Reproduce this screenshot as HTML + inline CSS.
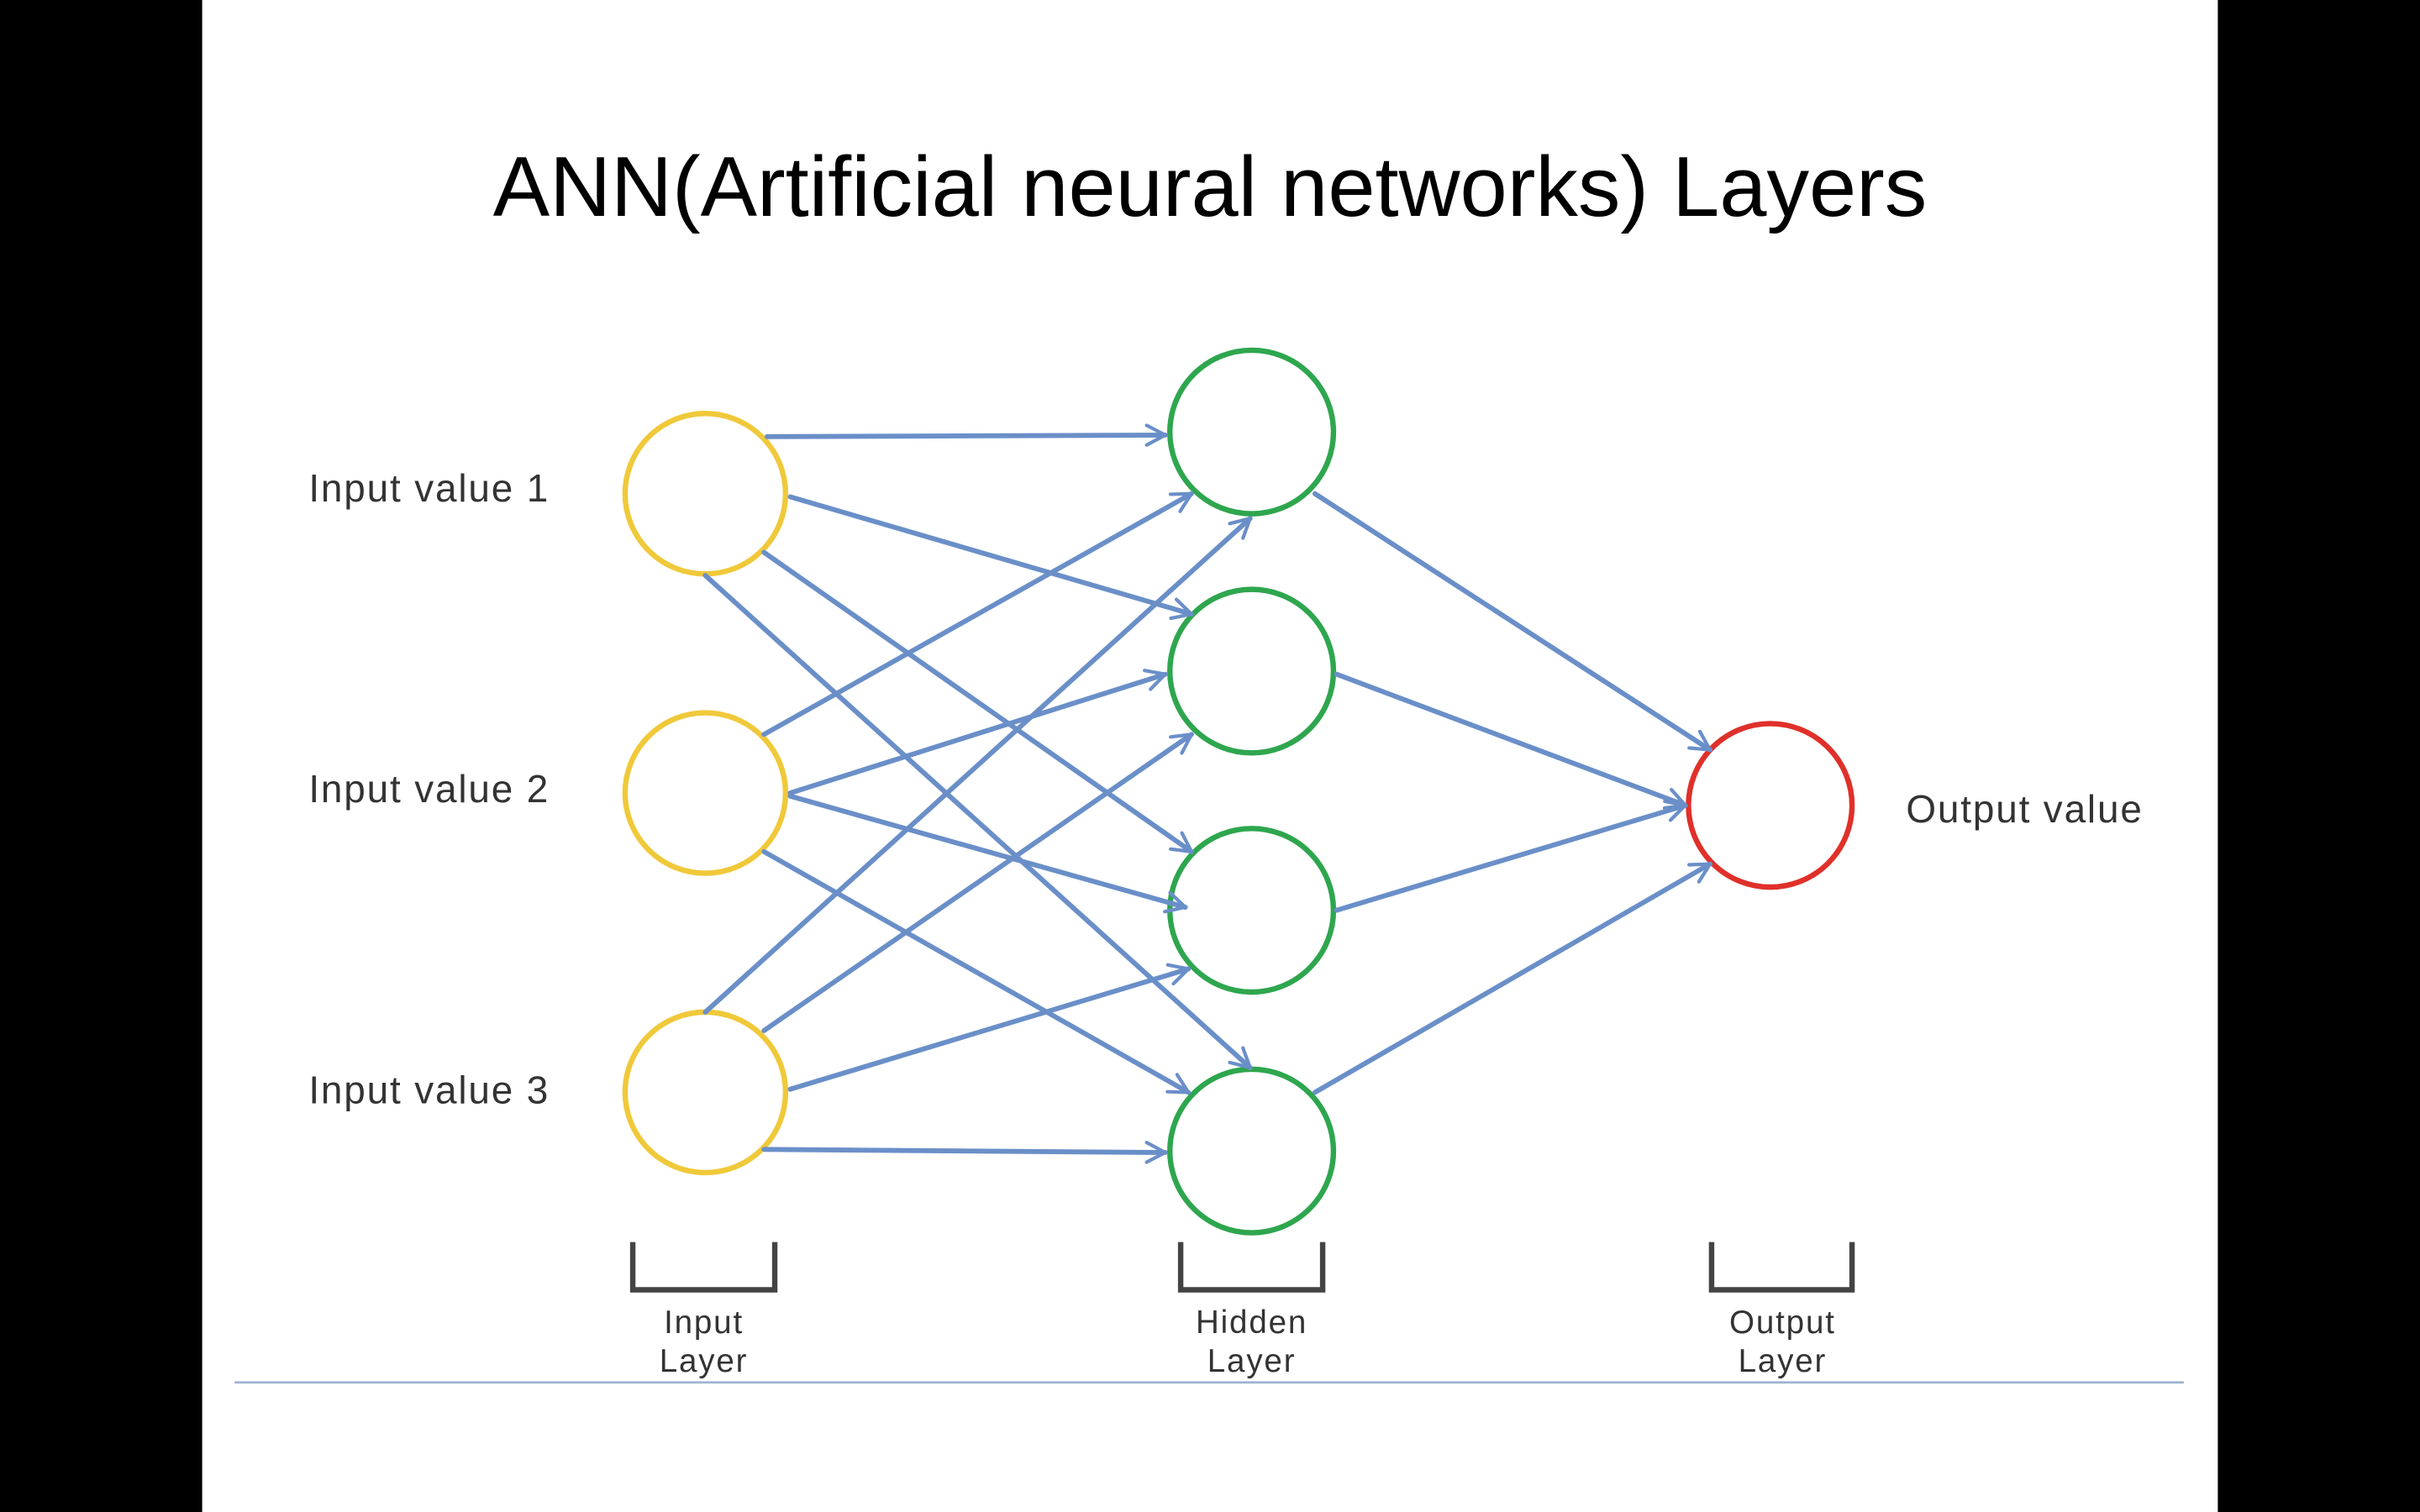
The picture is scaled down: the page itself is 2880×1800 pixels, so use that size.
<!DOCTYPE html>
<html><head><meta charset="utf-8"><style>
html,body{margin:0;padding:0;background:#000;}
svg{display:block;}
</style></head><body>
<svg width="2880" height="1800" viewBox="0 0 1568 980" xmlns="http://www.w3.org/2000/svg">
<defs>
<marker id="a" viewBox="0 0 12 12" refX="10.5" refY="6" markerWidth="17" markerHeight="17" orient="auto" markerUnits="userSpaceOnUse">
<path d="M2,1.5 L10.5,6 L2,10.5" fill="none" stroke="#6a8fc8" stroke-width="1.6" stroke-linecap="round" stroke-linejoin="round"/>
</marker>
</defs>
<rect x="0" y="0" width="1568" height="980" fill="#000"/>
<rect x="131" y="0" width="1306" height="980" fill="#fff"/>
<text x="784" y="140" text-anchor="middle" font-family="Liberation Sans, sans-serif" font-size="55" fill="#000">ANN(Artificial neural networks) Layers</text>
<g fill="#fff" stroke-width="3.5">
<circle cx="457" cy="320" r="52" stroke="#f0c93a"/>
<circle cx="457" cy="514" r="52" stroke="#f0c93a"/>
<circle cx="457" cy="708" r="52" stroke="#f0c93a"/>
<circle cx="811" cy="280" r="53" stroke="#2ea64e"/>
<circle cx="811" cy="435" r="53" stroke="#2ea64e"/>
<circle cx="811" cy="590" r="53" stroke="#2ea64e"/>
<circle cx="811" cy="746" r="53" stroke="#2ea64e"/>
<circle cx="1147" cy="522" r="53" stroke="#e0302a"/>
</g>
<g stroke="#6a8fc8" stroke-width="3.2" fill="none" marker-end="url(#a)" stroke-linecap="round">
<line x1="497" y1="283" x2="755" y2="282"/>
<line x1="512" y1="322" x2="772" y2="398"/>
<line x1="495" y1="358" x2="772" y2="552"/>
<line x1="457" y1="373" x2="810" y2="692"/>
<line x1="495" y1="476" x2="772" y2="320"/>
<line x1="512" y1="514" x2="755" y2="437"/>
<line x1="512" y1="516" x2="768" y2="588"/>
<line x1="495" y1="552" x2="770" y2="708"/>
<line x1="457" y1="656" x2="810" y2="336"/>
<line x1="495" y1="668" x2="772" y2="476"/>
<line x1="512" y1="706" x2="770" y2="628"/>
<line x1="495" y1="745" x2="755" y2="747"/>
<line x1="852" y1="320" x2="1108" y2="486"/>
<line x1="866" y1="437" x2="1092" y2="522"/>
<line x1="866" y1="590" x2="1092" y2="522"/>
<line x1="852" y1="708" x2="1108" y2="560"/>
</g>
<g font-family="Liberation Sans, sans-serif" font-size="25" fill="#333" letter-spacing="1">
<text x="200" y="325">Input value 1</text>
<text x="200" y="520">Input value 2</text>
<text x="200" y="715">Input value 3</text>
<text x="1235" y="533">Output value</text>
</g>
<g stroke="#444" stroke-width="3.5" fill="none">
<path d="M410,805 V836 H502 V805"/>
<path d="M765,805 V836 H857 V805"/>
<path d="M1109,805 V836 H1200 V805"/>
</g>
<g font-family="Liberation Sans, sans-serif" font-size="21" fill="#333" text-anchor="middle" letter-spacing="1">
<text x="456" y="864">Input</text><text x="456" y="889">Layer</text>
<text x="811" y="864">Hidden</text><text x="811" y="889">Layer</text>
<text x="1155" y="864">Output</text><text x="1155" y="889">Layer</text>
</g>
<line x1="152" y1="896" x2="1415" y2="896" stroke="#9fb3cf" stroke-width="1.5"/>
</svg>
</body></html>
